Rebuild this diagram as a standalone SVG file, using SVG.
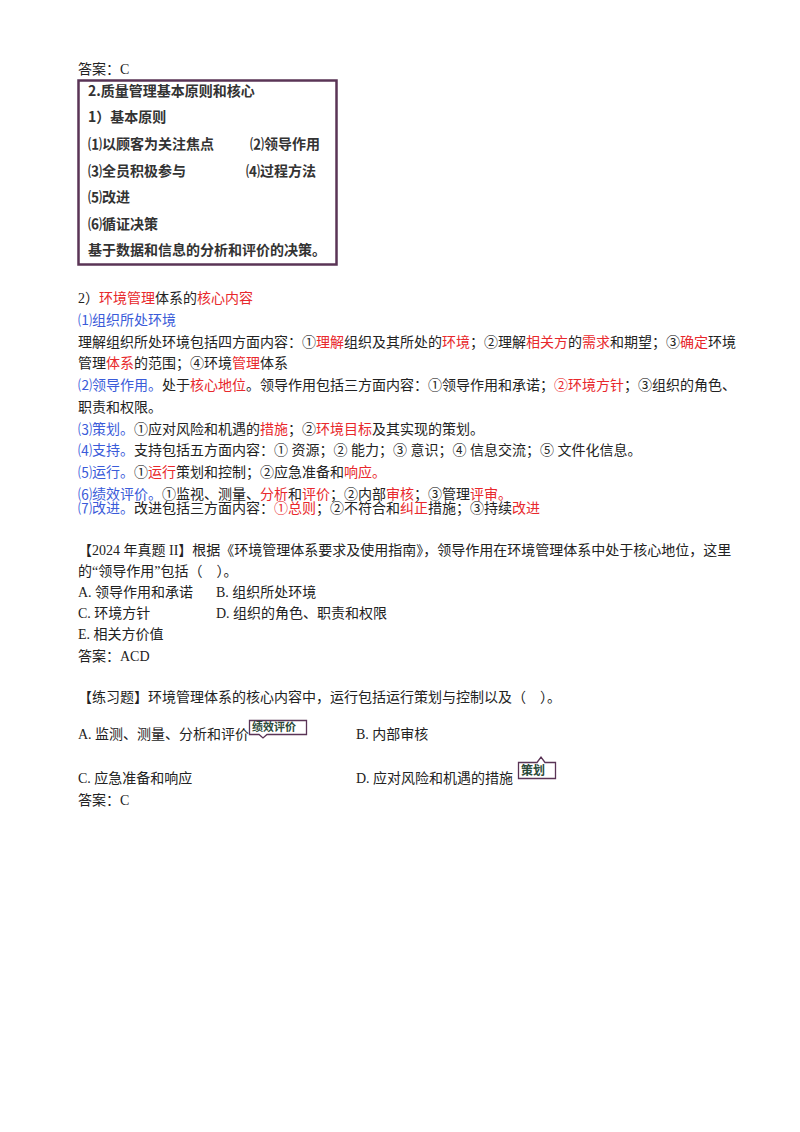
<svg xmlns="http://www.w3.org/2000/svg" width="800" height="1132" viewBox="0 0 800 1132">
<style>
text{font-family:"Liberation Serif","Noto Sans CJK SC",serif;font-size:14px;fill:#222}
.b{fill:#3a5bd9}.r{fill:#e8282c}
.bx{font-family:"Noto Sans CJK SC",sans-serif;font-weight:bold;font-size:14px;fill:#333}
.tag{font-family:"Noto Sans CJK SC",sans-serif;font-weight:bold;font-size:11px;fill:#2b4a3a}
</style>
<rect width="800" height="1132" fill="#fff"/>
<text x="78" y="74">答案：C</text>
<g id="box">
<rect x="78.5" y="80.5" width="258" height="184" fill="#fff" stroke="#5a3456" stroke-width="2.5"/>
<text class="bx" x="88" y="96">2.质量管理基本原则和核心</text>
<text class="bx" x="88" y="122">1）基本原则</text>
<text class="bx" x="88" y="149">⑴以顾客为关注焦点</text>
<text class="bx" x="250" y="149">⑵领导作用</text>
<text class="bx" x="88" y="176">⑶全员积极参与</text>
<text class="bx" x="246" y="176">⑷过程方法</text>
<text class="bx" x="88" y="202">⑸改进</text>
<text class="bx" x="88" y="229">⑹循证决策</text>
<text class="bx" x="88" y="255">基于数据和信息的分析和评价的决策。</text>
</g>
<text x="78" y="303">2）<tspan class="r">环境管理</tspan>体系的<tspan class="r">核心内容</tspan></text>
<text x="78" y="325" class="b">⑴组织所处环境</text>
<text x="78" y="347">理解组织所处环境包括四方面内容：①<tspan class="r">理解</tspan>组织及其所处的<tspan class="r">环境</tspan>；②理解<tspan class="r">相关方</tspan>的<tspan class="r">需求</tspan>和期望；③<tspan class="r">确定</tspan>环境</text>
<text x="78" y="368">管理<tspan class="r">体系</tspan>的范围；④环境<tspan class="r">管理</tspan>体系</text>
<text x="78" y="390"><tspan class="b">⑵领导作用。</tspan>处于<tspan class="r">核心地位</tspan>。领导作用包括三方面内容：①领导作用和承诺；<tspan class="r">②环境方针</tspan>；③组织的角色、</text>
<text x="78" y="412">职责和权限。</text>
<text x="78" y="434"><tspan class="b">⑶策划。</tspan>①应对风险和机遇的<tspan class="r">措施</tspan>；②<tspan class="r">环境目标</tspan>及其实现的策划。</text>
<text x="78" y="455"><tspan class="b">⑷支持。</tspan>支持包括五方面内容：① 资源；② 能力；③ 意识；④ 信息交流；⑤ 文件化信息。</text>
<text x="78" y="477"><tspan class="b">⑸运行。</tspan>①<tspan class="r">运行</tspan>策划和控制；②应急准备和<tspan class="r">响应。</tspan></text>
<text x="78" y="499"><tspan class="b">⑹绩效评价。</tspan>①监视、测量、<tspan class="r">分析</tspan>和<tspan class="r">评价</tspan>；②内部<tspan class="r">审核</tspan>；③管理<tspan class="r">评审。</tspan></text>
<text x="78" y="513"><tspan class="b">⑺改进。</tspan>改进包括三方面内容：<tspan class="r">①总则</tspan>；②不符合和<tspan class="r">纠正</tspan>措施；③持续<tspan class="r">改进</tspan></text>
<text x="78" y="555">【2024 年真题 II】根据《环境管理体系要求及使用指南》，领导作用在环境管理体系中处于核心地位，这里</text>
<text x="78" y="576">的“领导作用”包括（　）。</text>
<text x="78" y="597">A. 领导作用和承诺</text><text x="216" y="597">B. 组织所处环境</text>
<text x="78" y="618">C. 环境方针</text><text x="216" y="618">D. 组织的角色、职责和权限</text>
<text x="78" y="639">E. 相关方价值</text>
<text x="78" y="661">答案：ACD</text>
<text x="78" y="702">【练习题】环境管理体系的核心内容中，运行包括运行策划与控制以及（　）。</text>
<text x="78" y="739">A. 监测、测量、分析和评价</text>
<text x="356" y="739">B. 内部审核</text>
<text x="78" y="783">C. 应急准备和响应</text>
<text x="356" y="783">D. 应对风险和机遇的措施</text>
<text x="78" y="805">答案：C</text>
<g id="tag1">
<path d="M249.5,720.5 H306.5 V734.5 H267 L263,738 L259,734.5 H249.5 Z" fill="#fff" stroke="#5a3456" stroke-width="1.3"/>
<text class="tag" x="252" y="731">绩效评价</text>
</g>
<g id="tag2">
<path d="M518.5,762.5 H537 L541,757 L545,762.5 H555.5 V778.5 H518.5 Z" fill="#fff" stroke="#5a3456" stroke-width="1.3"/>
<text class="tag" x="521" y="775" style="font-size:12px">策划</text>
</g>
</svg>
